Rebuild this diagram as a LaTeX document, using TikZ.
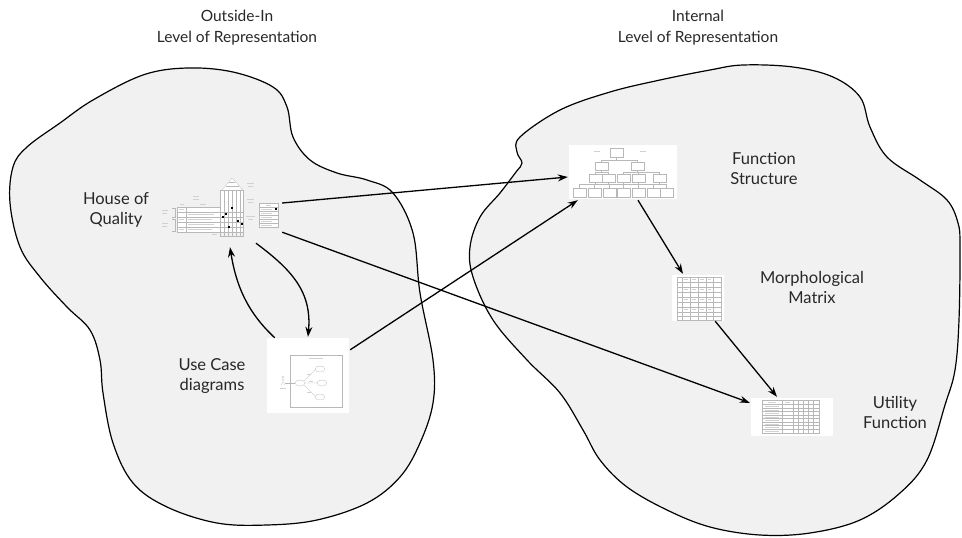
\documentclass[tikz,border=0pt]{standalone}
\usepackage{fontspec}
\setmainfont{Lato}
\usetikzlibrary{arrows.meta,calc}
\definecolor{blobfill}{RGB}{241,241,241}
\definecolor{txt}{RGB}{40,40,40}
\tikzset{
  blob/.style={draw=black, line width=1.2pt, fill=blobfill},
  lbl/.style={align=center, font=\fontsize{16.5}{20}\selectfont, text=txt, inner sep=0pt},
  ttl/.style={align=center, font=\fontsize{15.5}{21}\selectfont, text=txt, inner sep=0pt},
  thumb/.style={draw=none, fill=white, inner sep=0pt, rectangle},
  ghost/.style={draw=none, fill=none, inner sep=0pt, rectangle},
  conn/.style={line width=1.3pt, -{Stealth[length=10pt,width=7pt]}},
  tl/.style={draw=black!28, line width=0.25pt},
  tx/.style={draw=black!18, line width=0.5pt},
  dot/.style={fill=black}
}
\begin{document}
\begin{tikzpicture}[x=1pt,y=-1pt]
\useasboundingbox (0,0) rectangle (962,538);
\fill[white] (0,0) rectangle (962,538);

% blobs
\draw[blob] plot[smooth cycle, tension=0.6] coordinates {
 (143,75) (187,68) (233,72) (273,87) (287,107) (293,137) (310,160) (337,173)
 (367,180) (393,193) (413,233) (420,293) (433,360) (433,403) (420,443)
 (400,477) (367,503) (317,520) (267,525) (217,523) (167,507) (133,483)
 (113,443) (103,393) (100,360) (90,330) (67,307) (40,277) (20,247) (10,203)
 (13,167) (27,147) (60,123) (93,100)};
\draw[blob] plot[smooth cycle, tension=0.6] coordinates {
 (520,137) (560,110) (610,92) (660,80) (710,70) (743,65) (793,67) (833,77)
 (860,97) (870,127) (887,157) (920,180) (947,200) (958,223) (960,247)
 (959,320) (955,370) (945,405) (927,460) (900,493) (860,520) (810,533)
 (760,535) (710,527) (667,510) (627,487) (600,460) (583,430) (560,393)
 (527,360) (493,320) (473,277) (470,247) (480,217) (500,193) (516,172)
 (522,163) (517,152)};

% titles
\node[ttl] (t1) at (237,28) {Outside-In\\Level of Representation};
\node[ttl] (t2) at (698,28) {Internal\\Level of Representation};

% labels
\node[lbl] (lhoq) at (116,210) {House of\\Quality};
\node[lbl] (luc) at (212,376) {Use Case\\diagrams};
\node[lbl] (lfs) at (764,169) {Function\\Structure};
\node[lbl] (lmm) at (812,287) {Morphological\\Matrix};
\node[lbl] (luf) at (895,412) {Utility\\Function};

% thumbnails (nodes)
\node[ghost, minimum width=122pt, minimum height=60pt] (hoq) at (220,206) {};
\node[thumb, minimum width=82pt, minimum height=75pt] (uc) at (308,375.5) {};
\node[thumb, minimum width=108pt, minimum height=54pt] (fs) at (623,172) {};
\node[thumb, minimum width=52pt, minimum height=46pt] (mm) at (698,298) {};
\node[thumb, minimum width=82pt, minimum height=38pt] (uf) at (792,417) {};

% ---- House of Quality drawing
\fill[white] (177,207) rectangle (243,232);
\fill[white] (220,190) rectangle (243,207);
\fill[white] (222,190) -- (232,178) -- (243,190) -- cycle;
\fill[white] (259,203) rectangle (278,227);
\draw[tl] (222,190) -- (232,178) -- (243,190);
\draw[tl] (226,186) -- (239,186) (229,182) -- (235,182);
\draw[tl] (220,190) rectangle (243,236);
\foreach \x in {224,228,232,236,240} \draw[tl] (\x,190) -- (\x,236);
\draw[tl] (177,207) rectangle (220,232);
\draw[tl] (186,207) -- (186,232);
\foreach \y in {212,217,222,227} \draw[tl] (177,\y) -- (243,\y);
\draw[tl] (220,232) -- (243,232);
\draw[tl] (172,208) -- (175,208) -- (175,217) -- (172,217);
\draw[tl] (172,219) -- (175,219) -- (175,231) -- (172,231);
\draw[tx] (162,210) -- (168,210) (162,213) -- (167,213);
\draw[tx] (162,223) -- (168,223) (162,226) -- (167,226);
\draw[tx] (193,196) -- (199,196) (193,199) -- (199,199);
\draw[tx] (180,204) -- (184,204) (200,204) -- (206,204);
\draw[tx] (188,214.5) -- (214,214.5) (188,219.5) -- (212,219.5) (188,224.5) -- (214,224.5) (188,229.5) -- (212,229.5);
\draw[tx] (179,209.5) -- (184,209.5) (179,219.5) -- (184,219.5) (179,229.5) -- (184,229.5);
\draw[tx] (247,183) -- (254,183) (248,186) -- (253,186);
\draw[tx] (247,199) -- (254,199) (248,202) -- (253,202);
\draw[tx] (246,216) -- (255,216) (248,219) -- (253,219);
\draw[tx] (212,234) -- (217,234);
\draw[tl] (259,203) rectangle (278,227);
\foreach \y in {207,211,215,219,223} \draw[tl] (259,\y) -- (278,\y);
\draw[tx] (261,209) -- (272,209) (261,213) -- (272,213) (261,217) -- (272,217) (261,221) -- (272,221) (261,225) -- (272,225) (266,205) -- (271,205);
\foreach \p in {(232,208),(226,214),(223,217),(238,221),(242,224),(229,227),(276,209)}
  \fill[dot] \p ++(-1.3,-1.3) rectangle ++(2.6,2.6);

% ---- Use case drawing
\draw[tl] (290,355) rectangle (342,407);
\draw[tx] (309,358) -- (323,358);
\draw[tl] (283,377) circle (1.2);
\draw[tl] (283,378.2) -- (283,382) (281,380) -- (285,380) (283,382) -- (281,385) (283,382) -- (285,385);
\draw[tx] (280,388) -- (286,388);
\draw[tl] (285,383) -- (295,383);
\draw[tl] (300,383) ellipse (5 and 3);
\draw[tl] (320,369) ellipse (5 and 3);
\draw[tl] (322,383) ellipse (5 and 3);
\draw[tl] (320,397) ellipse (5 and 3);
\draw[tl] (304,381) -- (315,370) (305,383) -- (317,383) (304,385) -- (315,396);
\draw[tx] (307,374) -- (311,374) (309,381) -- (313,381) (307,392) -- (311,392);

% ---- Function structure drawing
\draw[tx] (594,151) -- (600,151) (640,151) -- (646,151);
\draw[tl] (610,148) rectangle (623,157);
\draw[tl] (616.5,157) -- (616.5,160) (601.5,160) -- (637.5,160) (601.5,160) -- (601.5,162) (637.5,160) -- (637.5,162);
\draw[tl] (595,162) rectangle (608,170) (631,162) rectangle (644,170);
\draw[tl] (601.5,170) -- (601.5,172) (594.5,172) -- (608,172) (637.5,170) -- (637.5,172) (623.5,172) -- (659.5,172);
\foreach \a in {589,602,617,632,653} {
  \draw[tl] (\a,174) rectangle ++(13,8);
  \draw[tl] (\a+6,172) -- (\a+6,174);
}
\draw[tl] (580,184) -- (666,184);
\foreach \a in {573,588,603,617,632,647,660} {
  \draw[tl] (\a,188) rectangle ++(13,9);
  \draw[tl] (\a+6,184) -- (\a+6,188);
}
\foreach \a in {595,608,623,638,659} \draw[tl] (\a,182) -- (\a,184);

% ---- Morphological matrix drawing
\draw[tl] (677,277) rectangle (721,320);
\foreach \x in {682,690,698,706,713} \draw[tl] (\x,277) -- (\x,320);
\foreach \y in {282,287,292,297,302,307,312,316} \draw[tl] (677,\y) -- (721,\y);
\foreach \y in {279.5,289.5,299.5,309.5} {
  \draw[tx] (684,\y) -- (688,\y) (692,\y) -- (696,\y) (700,\y) -- (704,\y) (708,\y) -- (711,\y);
}

% ---- Utility function drawing
\draw[tl] (762,400) rectangle (819,433);
\foreach \x in {782,793,798,803,808,813} \draw[tl] (\x,400) -- (\x,433);
\foreach \y in {404,408,411.5,415,418.5,422,425.5,429} \draw[tl] (762,\y) -- (819,\y);
\foreach \y in {406,410,413.5,417,420.5,424,427.5,431} \draw[tx] (765,\y) -- (779,\y);
\draw[tx] (768,402) -- (776,402) (785,402) -- (790,402);

% ---- connectors
\draw[conn] ($(hoq.east)+(1,-3)$) -- ($(fs.west)+(-1,5)$);
\draw[conn] ($(hoq.south east)+(1,-4)$) -- ($(uf.north west)+(-1,5)$);
\draw[conn] ($(uc.north east)+(1,12)$) -- ($(fs.south west)+(9,1)$);
\draw[conn] ($(uc.north west)+(8,0)$) .. controls (247,312) and (236,285) .. ($(hoq.south)+(10,11)$);
\draw[conn] ($(hoq.south)+(36,7)$) .. controls (292,270) and (312,292) .. ($(uc.north)+(0,-1)$);
\draw[conn] ($(fs.south)+(15,1)$) -- ($(mm.north)+(-15,-1)$);
\draw[conn] ($(mm.south east)+(-9,0)$) -- ($(uf.north)+(-15,-1)$);
\end{tikzpicture}
\end{document}
